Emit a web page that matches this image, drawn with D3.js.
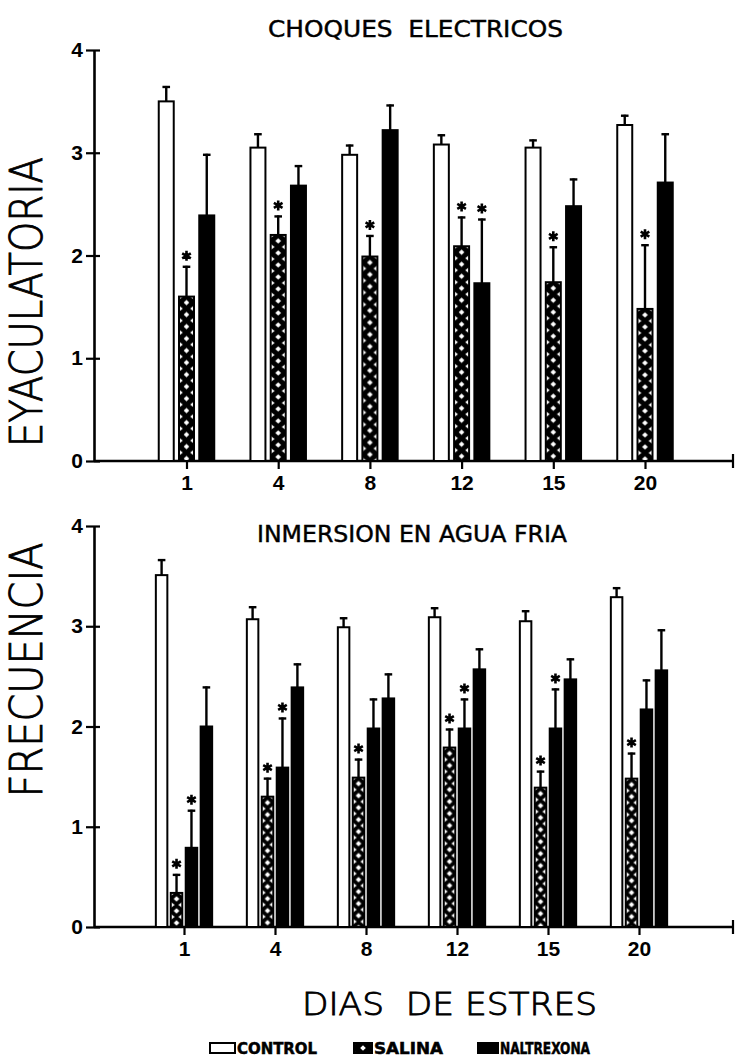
<!DOCTYPE html>
<html>
<head>
<meta charset="utf-8">
<script src="https://cdn.jsdelivr.net/npm/d3@7/dist/d3.min.js"></script>
<style>
  html, body { margin: 0; padding: 0; background: #fff; }
  svg { display: block; }
  text { font-family: "Liberation Sans Narrow", "Arial Narrow", "DejaVu Sans Condensed", sans-serif; fill: #000; white-space: pre; }
  .light { font-family: "DejaVu Sans", sans-serif; font-weight: 200; stroke: #000; stroke-width: 0.9px; }
</style>
</head>
<body>
<svg id="chart" width="736" height="1057"></svg>
<script>
// Days of stress (categories)
const days = ["1", "4", "8", "12", "15", "20"];
const yTicks = [0, 1, 2, 3, 4];

// Electric shocks: means and standard errors
const shockControl = [3.50, 3.05, 2.98, 3.08, 3.05, 3.27];
const shockControlSE = [0.15, 0.14, 0.10, 0.10, 0.08, 0.10];
const shockSalina = [1.60, 2.20, 1.99, 2.09, 1.74, 1.48];
const shockSalinaSE = [0.30, 0.19, 0.21, 0.29, 0.35, 0.63];
const shockNaltrexona = [2.39, 2.68, 3.22, 1.73, 2.48, 2.71];
const shockNaltrexonaSE = [0.60, 0.20, 0.25, 0.63, 0.27, 0.48];
const shockSalinaSig = [1, 1, 1, 1, 1, 1];
const shockNaltrexonaSig = [0, 0, 0, 1, 0, 0];

// Cold water immersion: means and standard errors
const aguaControl = [3.51, 3.07, 2.99, 3.09, 3.05, 3.29];
const aguaControlSE = [0.16, 0.13, 0.10, 0.10, 0.11, 0.10];
const aguaSalina = [0.34, 1.30, 1.49, 1.79, 1.39, 1.48];
const aguaSalinaSE = [0.19, 0.19, 0.19, 0.19, 0.17, 0.26];
const aguaNaltrexona1 = [0.79, 1.59, 1.98, 1.98, 1.98, 2.17];
const aguaNaltrexona1SE = [0.38, 0.50, 0.30, 0.30, 0.40, 0.30];
const aguaNaltrexona2 = [2.00, 2.39, 2.28, 2.57, 2.47, 2.56];
const aguaNaltrexona2SE = [0.40, 0.24, 0.25, 0.21, 0.21, 0.41];
const aguaSalinaSig = [1, 1, 1, 1, 1, 1];
const aguaNaltrexona1Sig = [1, 1, 0, 1, 1, 0];

const legendLabels = ["CONTROL", "SALINA", "NALTREXONA"];
const legendKinds = ["control", "salina", "naltrexona"];

const svg = d3.select("#chart");
svg.append("rect").attr("width", 736).attr("height", 1057).attr("fill", "#fff");
const defs = svg.append("defs");
let patId = 0;

// Cross-hatched fill: black field with white diamonds down the middle
// and white half-diamonds on the edges.
function hatchPattern(x0, y0, w) {
  const id = "hatch" + (patId++);
  const h = 12;
  const p = defs.append("pattern").attr("id", id)
    .attr("patternUnits", "userSpaceOnUse")
    .attr("x", x0).attr("y", y0).attr("width", w).attr("height", h);
  p.append("rect").attr("width", w).attr("height", h).attr("fill", "#000");
  const cx = w / 2, d = 2.8;
  p.append("polygon").attr("fill", "#fff")
    .attr("points", [[cx, h / 2 - d], [cx + d, h / 2], [cx, h / 2 + d], [cx - d, h / 2]].join(" "));
  [0, h].forEach(yy => {
    p.append("polygon").attr("fill", "#fff")
      .attr("points", [[0, yy - 3], [3.9, yy], [0, yy + 3]].join(" "));
    p.append("polygon").attr("fill", "#fff")
      .attr("points", [[w, yy - 3], [w - 3.9, yy], [w, yy + 3]].join(" "));
  });
  return "url(#" + id + ")";
}

function asteriskPath() {
  const type = d3.symbolAsterisk || d3.symbolCross;
  return d3.symbol().type(type).size(70)();
}

function drawPanel(cfg) {
  const g = svg.append("g");
  const y = d3.scaleLinear().domain([0, 4]).range([cfg.y0, cfg.y4]);
  const x = d3.scalePoint().domain(days).range(cfg.xRange);
  const inner = d3.scaleBand().domain(cfg.series.map(s => s.key))
    .range([-cfg.groupWidth / 2, cfg.groupWidth / 2]).paddingInner(cfg.pad);
  const bw = inner.bandwidth();

  // y axis
  const yAxis = g.append("g").attr("transform", `translate(${cfg.axisX},0)`)
    .call(d3.axisLeft(y).tickValues(yTicks).tickFormat(d3.format("d"))
      .tickSize(8).tickSizeOuter(0).tickPadding(4));
  yAxis.select(".domain").attr("stroke", "#000").attr("stroke-width", 2.6);
  yAxis.selectAll(".tick line").attr("x1", 6).attr("x2", -8).attr("stroke", "#000").attr("stroke-width", 2.2);
  yAxis.selectAll(".tick text")
    .attr("x", -11)
    .style("font-family", "'Liberation Sans', Arial, sans-serif")
    .attr("font-weight", "bold").attr("font-size", 21);

  // x axis
  g.append("line").attr("x1", cfg.axisX).attr("x2", cfg.axisEnd)
    .attr("y1", y(0)).attr("y2", y(0)).attr("stroke", "#000").attr("stroke-width", 2.6);
  g.append("line").attr("x1", cfg.axisEnd).attr("x2", cfg.axisEnd)
    .attr("y1", y(0) - 7).attr("y2", y(0) + 7).attr("stroke", "#000").attr("stroke-width", 2.2);
  const xAxis = g.append("g").attr("transform", `translate(0,${y(0)})`)
    .call(d3.axisBottom(x).tickSize(8).tickSizeOuter(0).tickPadding(6));
  xAxis.select(".domain").remove();
  xAxis.selectAll(".tick line").attr("stroke", "#000").attr("stroke-width", 2.2);
  xAxis.selectAll(".tick text")
    .style("font-family", "'Liberation Sans', Arial, sans-serif")
    .attr("font-weight", "bold").attr("font-size", 21);

  // title
  g.append("text").attr("x", cfg.titleX).attr("y", cfg.titleY)
    .attr("text-anchor", "middle").attr("font-size", 23)
    .attr("stroke", "#000").attr("stroke-width", 0.4)
    .attr("textLength", cfg.titleLen).attr("lengthAdjust", "spacingAndGlyphs")
    .text(cfg.title);

  // bars, error bars, significance marks
  cfg.series.forEach(s => {
    days.forEach((d, i) => {
      const v = s.values[i], se = s.se[i];
      const bx = x(d) + inner(s.key);
      const top = y(v), base = y(0);
      let fill = "#fff";
      if (s.kind === "naltrexona") fill = "#000";
      if (s.kind === "salina") fill = hatchPattern(bx, top, bw);
      // error bar (upper half only)
      const cxm = bx + bw / 2;
      const et = y(v + se);
      g.append("line").attr("x1", cxm).attr("x2", cxm).attr("y1", top).attr("y2", et)
        .attr("stroke", "#000").attr("stroke-width", 2.4);
      g.append("line").attr("x1", cxm - 3.8).attr("x2", cxm + 3.8).attr("y1", et + 1).attr("y2", et + 1)
        .attr("stroke", "#000").attr("stroke-width", 2.4);
      g.append("rect").attr("x", bx).attr("y", top).attr("width", bw).attr("height", base - top)
        .attr("fill", fill).attr("stroke", "#000").attr("stroke-width", 2);
      if (s.sig && s.sig[i]) {
        g.append("path").attr("d", asteriskPath())
          .attr("transform", `translate(${cxm},${et - 10})`)
          .attr("fill", "#000").attr("stroke", "#000").attr("stroke-width", 2.6);
      }
    });
  });
}

drawPanel({
  title: "CHOQUES  ELECTRICOS", titleX: 415.5, titleY: 37, titleLen: 295,
  y0: 461, y4: 50, xRange: [186.5, 645], axisX: 94, axisEnd: 733,
  groupWidth: 55.5, pad: 0.26,
  series: [
    { key: "c", kind: "control", values: shockControl, se: shockControlSE },
    { key: "s", kind: "salina", values: shockSalina, se: shockSalinaSE, sig: shockSalinaSig },
    { key: "n", kind: "naltrexona", values: shockNaltrexona, se: shockNaltrexonaSE, sig: shockNaltrexonaSig }
  ]
});

drawPanel({
  title: "INMERSION EN AGUA FRIA", titleX: 412, titleY: 542, titleLen: 310,
  y0: 927, y4: 526, xRange: [184, 639], axisX: 94, axisEnd: 733,
  groupWidth: 56.3, pad: 0.23,
  series: [
    { key: "c", kind: "control", values: aguaControl, se: aguaControlSE },
    { key: "s", kind: "salina", values: aguaSalina, se: aguaSalinaSE, sig: aguaSalinaSig },
    { key: "n1", kind: "naltrexona", values: aguaNaltrexona1, se: aguaNaltrexona1SE, sig: aguaNaltrexona1Sig },
    { key: "n2", kind: "naltrexona", values: aguaNaltrexona2, se: aguaNaltrexona2SE }
  ]
});

// Axis titles
svg.append("text").attr("class", "light").attr("transform", "translate(42,302) rotate(-90)")
  .attr("text-anchor", "middle").attr("font-size", 44)
  .attr("textLength", 290).attr("lengthAdjust", "spacingAndGlyphs")
  .text("EYACULATORIA");
svg.append("text").attr("class", "light").attr("transform", "translate(42,670) rotate(-90)")
  .attr("text-anchor", "middle").attr("font-size", 44)
  .attr("textLength", 255).attr("lengthAdjust", "spacingAndGlyphs")
  .text("FRECUENCIA");
svg.append("text").attr("class", "light").attr("x", 449.5).attr("y", 1015)
  .attr("text-anchor", "middle").attr("font-size", 32)
  .attr("textLength", 295).attr("lengthAdjust", "spacingAndGlyphs")
  .text("DIAS  DE ESTRES");

// Legend
const legendBoxX = [210, 354, 478];
const legendBoxW = [25, 18, 20];
const legendTextLen = [80, 69, 90];
legendLabels.forEach((lab, i) => {
  const kind = legendKinds[i];
  const bx = legendBoxX[i], by = 1043, w = legendBoxW[i], h = 10;
  let fill = "#fff";
  if (kind === "naltrexona") fill = "#000";
  if (kind === "salina") fill = hatchPattern(bx, by - 1, w);
  svg.append("rect").attr("x", bx).attr("y", by).attr("width", w).attr("height", h)
    .attr("fill", fill).attr("stroke", "#000").attr("stroke-width", 2);
  svg.append("text").attr("x", bx + w + 2).attr("y", by + 11)
    .attr("font-size", 16).attr("font-weight", "bold")
    .attr("stroke", "#000").attr("stroke-width", 0.5)
    .attr("textLength", legendTextLen[i]).attr("lengthAdjust", "spacingAndGlyphs")
    .text(lab);
});
</script>
</body>
</html>
